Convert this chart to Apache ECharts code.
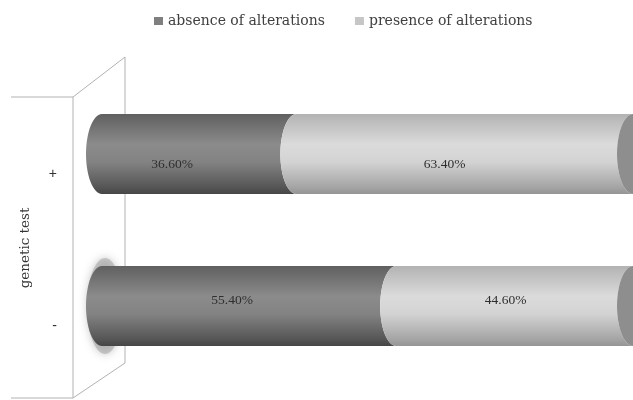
<!DOCTYPE html>
<html>
<head>
<meta charset="utf-8">
<script src="https://cdn.jsdelivr.net/npm/echarts@6/dist/echarts.min.js"></script>
<style>
  html, body { margin: 0; padding: 0; background: #ffffff; }
  #chart { width: 633px; height: 400px; }
</style>
</head>
<body>
<div id="chart"></div>
<script>
// Share of genetic-test groups with / without alterations (percent)
const categories = ['+', '-'];
const absence = [36.6, 55.4];
const presence = [63.4, 44.6];
const seriesNames = ['absence of alterations', 'presence of alterations'];

// Label nudges (px) per series and category, keeps text where the 3D view puts it
const labelNudge = {
  absence: [[-27, 10], [-17, -6]],
  presence: [[-20, 10], [-9, -6]]
};
const glowCategory = '-';

const CAP_RX = 16;
const BAR_RATIO = 0.526;

const darkFill = new echarts.graphic.LinearGradient(0, 0, 0, 1, [
  { offset: 0, color: '#606060' },
  { offset: 0.38, color: '#8b8b8b' },
  { offset: 0.6, color: '#838383' },
  { offset: 0.9, color: '#585858' },
  { offset: 1, color: '#464646' }
]);
const lightFill = new echarts.graphic.LinearGradient(0, 0, 0, 1, [
  { offset: 0, color: '#b3b3b3' },
  { offset: 0.38, color: '#dbdbdb' },
  { offset: 0.6, color: '#d3d3d3' },
  { offset: 0.9, color: '#a7a7a7' },
  { offset: 1, color: '#959595' }
]);

// Cylinder segment: convex left end, concave right end (next segment sits in it)
function segmentPoints(x0, x1, cy, rx, ry) {
  const pts = [];
  const n = 28;
  for (let i = 0; i <= n; i++) {
    const t = -Math.PI / 2 + Math.PI * i / n;
    pts.push([x0 - rx * Math.cos(t), cy + ry * Math.sin(t)]);
  }
  for (let i = 0; i <= n; i++) {
    const t = Math.PI / 2 - Math.PI * i / n;
    pts.push([x1 - rx * Math.cos(t), cy + ry * Math.sin(t)]);
  }
  return pts;
}
function ellipsePoints(cx, cy, rx, ry) {
  const pts = [];
  const n = 56;
  for (let i = 0; i < n; i++) {
    const t = 2 * Math.PI * i / n;
    pts.push([cx + rx * Math.cos(t), cy + ry * Math.sin(t)]);
  }
  return pts;
}

function makeRenderer(key, fill, isLast) {
  return function (params, api) {
    const cat = api.value(0);
    const start = api.value(1);
    const end = api.value(2);
    const val = api.value(3);
    const p0 = api.coord([start, cat]);
    const p1 = api.coord([end, cat]);
    const h = api.size([0, 1])[1] * BAR_RATIO;
    const ry = h / 2;
    const cy = p0[1];
    const children = [];
    if (key === 'absence' && categories[cat] === glowCategory) {
      children.push({
        type: 'polygon',
        shape: { points: ellipsePoints(p0[0] + 3, cy, CAP_RX + 2, ry + 8) },
        style: {
          fill: 'rgba(150,150,150,0.45)',
          shadowBlur: 9,
          shadowColor: 'rgba(100,100,100,0.8)'
        },
        z2: 0
      });
    }
    children.push({
      type: 'polygon',
      shape: { points: segmentPoints(p0[0], p1[0], cy, CAP_RX, ry) },
      style: { fill: fill },
      z2: 1
    });
    if (isLast) {
      children.push({
        type: 'polygon',
        shape: { points: ellipsePoints(p1[0], cy, CAP_RX, ry) },
        style: { fill: '#8e8e8e' },
        z2: 2
      });
    }
    const nudge = labelNudge[key][cat];
    children.push({
      type: 'text',
      x: (p0[0] + p1[0]) / 2 + nudge[0],
      y: cy + nudge[1],
      style: {
        text: val.toFixed(2) + '%',
        fill: '#2e2e2e',
        font: '13.5px "Liberation Serif", serif',
        align: 'center',
        verticalAlign: 'middle'
      },
      z2: 3
    });
    return { type: 'group', children: children };
  };
}

const absenceData = categories.map((c, i) => [i, 0, absence[i], absence[i]]);
const presenceData = categories.map((c, i) => [i, absence[i], absence[i] + presence[i], presence[i]]);

const wallColor = '#b2b2b2';
const wallLines = [
  [[11, 97], [73, 97]],
  [[11, 398], [73, 398]],
  [[73, 97], [73, 398]],
  [[73, 97], [125, 57]],
  [[125, 57], [125, 363]],
  [[73, 398], [125, 363]]
];

const chart = echarts.init(document.getElementById('chart'), null, { renderer: 'canvas' });
chart.setOption({
  animation: false,
  backgroundColor: '#ffffff',
  legend: {
    left: 149,
    top: 9,
    itemWidth: 9,
    itemHeight: 8,
    itemGap: 30,
    icon: 'rect',
    data: seriesNames,
    textStyle: {
      fontFamily: '"DejaVu Serif", serif',
      fontSize: 14,
      color: '#404040'
    }
  },
  grid: { left: 102, right: 0, top: 78, bottom: 18 },
  xAxis: { type: 'value', min: 0, max: 100, show: false },
  yAxis: {
    type: 'category',
    data: categories,
    inverse: true,
    axisLine: { show: false },
    axisTick: { show: false },
    splitLine: { show: false },
    axisLabel: {
      margin: 45,
      fontFamily: '"Liberation Sans", sans-serif',
      fontSize: 14,
      color: '#333333',
      verticalAlign: 'top',
      lineHeight: 40
    }
  },
  graphic: wallLines.map(l => ({
    type: 'line',
    z: 0,
    shape: { x1: l[0][0], y1: l[0][1], x2: l[1][0], y2: l[1][1] },
    style: { stroke: wallColor, lineWidth: 1 }
  })).concat([{
    type: 'text',
    x: 25,
    y: 248,
    rotation: Math.PI / 2,
    style: {
      text: 'genetic test',
      font: '13.5px "DejaVu Serif", serif',
      fill: '#333333',
      align: 'center',
      verticalAlign: 'middle'
    }
  }]),
  series: [
    {
      name: seriesNames[0],
      type: 'custom',
      itemStyle: { color: '#7f7f7f' },
      encode: { x: [1, 2], y: 0 },
      renderItem: makeRenderer('absence', darkFill, false),
      data: absenceData,
      z: 2
    },
    {
      name: seriesNames[1],
      type: 'custom',
      itemStyle: { color: '#c6c6c6' },
      encode: { x: [1, 2], y: 0 },
      renderItem: makeRenderer('presence', lightFill, true),
      data: presenceData,
      z: 3
    }
  ]
});
</script>
</body>
</html>
